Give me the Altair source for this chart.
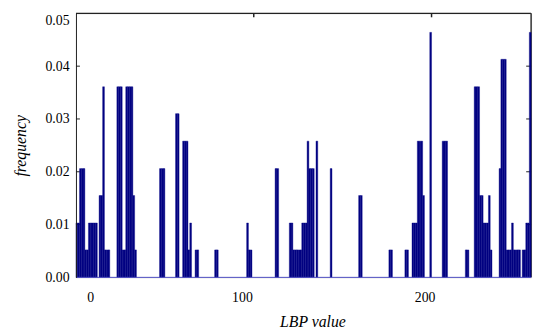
import altair as alt
import pandas as pd

# LBP histogram (non-empty bins only)
lbp_values = [0, 1, 2, 3, 4, 5, 6, 7, 8, 9, 10, 11, 13, 14, 15, 16, 17, 18,
              23, 24, 25, 26, 27, 28, 29, 30, 31, 32, 33, 47, 48, 49, 56, 57,
              60, 61, 62, 63, 64, 67, 68, 78, 79, 96, 97, 98, 112, 113, 120, 121,
              122, 123, 124, 125, 126, 127, 128, 129, 130, 131, 132, 133, 135, 143,
              159, 160, 176, 177, 185, 186, 189, 190, 191, 192, 193, 194, 195, 199,
              206, 207, 208, 219, 220, 224, 225, 226, 227, 228, 229, 230, 231, 232,
              233, 238, 239, 240, 241, 242, 243, 244, 245, 246, 247, 248, 249, 251,
              252, 253, 254, 255]
frequencies = [0.0103, 0.0103, 0.0206, 0.0206, 0.0206, 0.0052, 0.0052, 0.0103, 0.0103,
               0.0103, 0.0103, 0.0103, 0.0155, 0.0155, 0.0361, 0.0052, 0.0052, 0.0052,
               0.0361, 0.0361, 0.0361, 0.0052, 0.0052, 0.0361, 0.0361, 0.0361, 0.0361,
               0.0155, 0.0052, 0.0206, 0.0206, 0.0206, 0.0310, 0.0310,
               0.0258, 0.0258, 0.0258, 0.0052, 0.0103, 0.0052, 0.0052, 0.0052, 0.0052,
               0.0103, 0.0052, 0.0052, 0.0206, 0.0206, 0.0103, 0.0103,
               0.0052, 0.0052, 0.0052, 0.0052, 0.0052, 0.0103, 0.0103, 0.0103, 0.0258,
               0.0206, 0.0206, 0.0206, 0.0258, 0.0206,
               0.0155, 0.0155, 0.0052, 0.0052, 0.0052, 0.0052, 0.0103, 0.0103, 0.0103,
               0.0258, 0.0258, 0.0258, 0.0155, 0.0464,
               0.0258, 0.0258, 0.0258, 0.0052, 0.0052, 0.0361, 0.0361, 0.0361, 0.0155,
               0.0155, 0.0103, 0.0103, 0.0103, 0.0155,
               0.0052, 0.0206, 0.0413, 0.0413, 0.0413, 0.0052, 0.0052, 0.0052, 0.0103,
               0.0052, 0.0052, 0.0052, 0.0052, 0.0052,
               0.0052, 0.0103, 0.0103, 0.0464]

x_tick_values = [0, 100, 200]
top_tick_values = [100, 200]
y_tick_values = [0.0, 0.01, 0.02, 0.03, 0.04, 0.05]
inner_y_ticks = [0.01, 0.02, 0.03, 0.04]

W, H = 462, 268
SERIF = "Liberation Serif"

hist = pd.DataFrame({"lbp": lbp_values, "freq": frequencies})
xs = alt.Scale(domain=[0, 256], nice=False, zero=False)
ys = alt.Scale(domain=[0, 0.05], nice=False)

bars = alt.Chart(hist).transform_calculate(lbp_end="datum.lbp + 1").mark_rect(
    color="#000080", stroke="#0a0a88", strokeWidth=0.4
).encode(
    x=alt.X("lbp:Q", scale=xs, title="LBP value",
            axis=alt.Axis(values=x_tick_values, ticks=False, domain=False, grid=False,
                          labelFont=SERIF, labelFontSize=14, labelColor="black",
                          labelPadding=14,
                          labelOffset={"condition": [
                              {"test": "datum.value == 0", "value": 11},
                              {"test": "datum.value == 100", "value": -12}],
                              "value": -7},
                          titleFont=SERIF, titleFontSize=16, titleFontStyle="italic",
                          titleFontWeight="normal", titleColor="black", titlePadding=9,
                          titleX=240)),
    x2="lbp_end:Q",
    y=alt.Y("freq:Q", scale=ys, title="frequency",
            axis=alt.Axis(values=y_tick_values, format=".2f", ticks=False, grid=False,
                          domainColor="#222222", domainWidth=1, zindex=1,
                          labelFont=SERIF, labelFontSize=14, labelColor="black",
                          labelPadding=7,
                          labelBaseline={"condition": {"test": "datum.value == 0.05", "value": "top"},
                                         "value": "middle"},
                          titleFont=SERIF, titleFontSize=16, titleFontStyle="italic",
                          titleFontWeight="normal", titleColor="black", titlePadding=17)),
)

baseline = alt.Chart(pd.DataFrame({"y": [0.0]})).mark_rule(
    color="#4a4ac0", strokeWidth=1
).encode(y=alt.Y("y:Q", scale=ys, axis=None), x=alt.value(0), x2=alt.value(W))

top_border = alt.Chart(pd.DataFrame({"y": [0.05]})).mark_rule(
    color="#222222", strokeWidth=1.2
).encode(y=alt.Y("y:Q", scale=ys, axis=None), x=alt.value(0), x2=alt.value(W))

right_border = alt.Chart(pd.DataFrame({"x": [256]})).mark_rule(
    color="#333333", strokeWidth=1.5
).encode(x=alt.X("x:Q", scale=xs, axis=None), y=alt.value(0), y2=alt.value(H))

top_ticks = alt.Chart(pd.DataFrame({"x": top_tick_values})).mark_rule(
    color="#222222", strokeWidth=1.5
).encode(x=alt.X("x:Q", scale=xs, axis=None), y=alt.value(0), y2=alt.value(4))

left_ticks = alt.Chart(pd.DataFrame({"y": inner_y_ticks})).mark_rule(
    color="#222222", strokeWidth=1
).encode(y=alt.Y("y:Q", scale=ys, axis=None), x=alt.value(0), x2=alt.value(4))

right_ticks = alt.Chart(pd.DataFrame({"y": inner_y_ticks})).mark_rule(
    color="#222222", strokeWidth=1
).encode(y=alt.Y("y:Q", scale=ys, axis=None), x=alt.value(W - 5), x2=alt.value(W))

chart = alt.layer(
    top_border, right_border, top_ticks, left_ticks, right_ticks, bars, baseline
).resolve_axis(x="independent", y="independent").properties(
    width=W, height=H,
    autosize=alt.AutoSizeParams(type="none"),
    padding={"left": 69, "top": 3, "right": 7, "bottom": 52},
).configure_view(stroke=None).configure(background="white")

chart.save("out.html", embed_options={"renderer": "svg", "actions": False})
